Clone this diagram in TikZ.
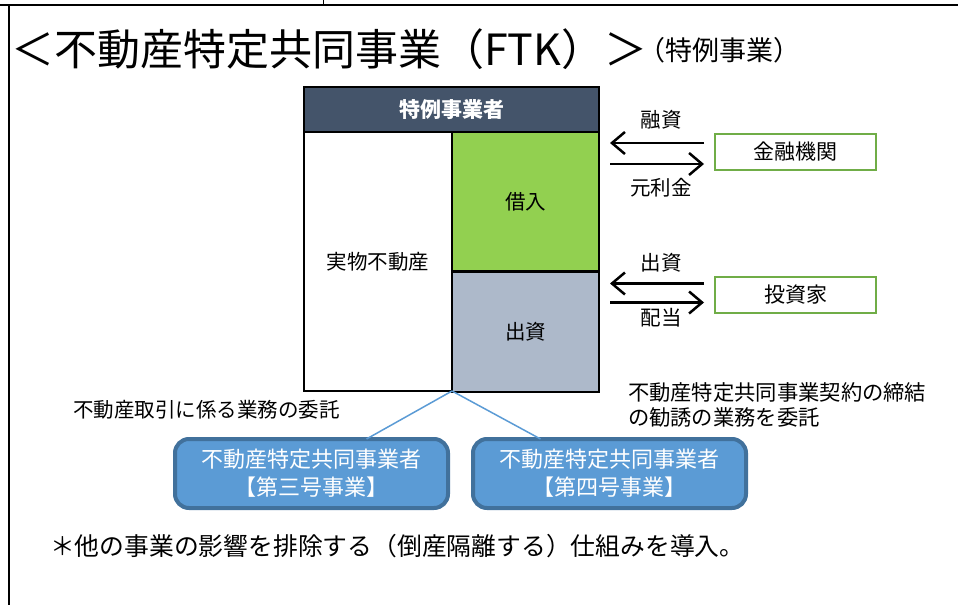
\documentclass[tikz,border=0pt]{standalone}
\usepackage{fontspec}
\setmainfont{Noto Sans CJK JP}
\usepackage{tikz}
\usetikzlibrary{arrows.meta}

\definecolor{hdrslate}{HTML}{44546A}
\definecolor{loangreen}{HTML}{92D050}
\definecolor{equitygray}{HTML}{ADB9CA}
\definecolor{partnergreen}{HTML}{70AD47}
\definecolor{agentblue}{HTML}{5B9BD5}
\definecolor{agentedge}{HTML}{41719C}

\begin{document}
\begin{tikzpicture}[x=1pt, y=-1pt]
\tikzstyle{every node} = [inner sep=0pt, outer sep=0pt]
\tikzstyle{cell} = [draw=black, line width=2pt, font=\fontsize{20.5}{24}\selectfont]
\tikzstyle{partner} = [draw=partnergreen, line width=2pt, minimum width=161pt, minimum height=36pt, font=\fontsize{21}{24}\selectfont]
\tikzstyle{agent} = [draw=agentedge, fill=agentblue, line width=4pt, rounded corners=14pt, minimum width=273pt, minimum height=69pt, text=white, align=center, font=\fontsize{22}{28}\selectfont]
\tikzstyle{lbl} = [font=\fontsize{20.5}{24}\selectfont]
\tikzstyle{flow} = [-{Straight Barb[length=13pt,width=22pt]}, line width=2.5pt, shorten <=11pt, shorten >=11pt]
\tikzstyle{link} = [draw=agentblue, line width=1.5pt]

\useasboundingbox (0,0) rectangle (958,605);

% frame
\draw[line width=1.5pt] (0,5) -- (958,5);
\draw[line width=1.5pt] (9,5) -- (9,605);
\draw (323,0) -- (323,5);

\node[anchor=west, font=\fontsize{43}{46}\selectfont] (title) at (11,49) {＜不動産特定共同事業（FTK）＞};
\node[anchor=west, font=\fontsize{27}{30}\selectfont] (subtitle) at (638,50) {（特例事業）};

% scheme box
\node[cell, fill=hdrslate, text=white, minimum width=295pt, minimum height=45pt, font=\bfseries\fontsize{21}{24}\selectfont] (hdr) at (451.5,109.5) {特例事業者};
\node[cell, fill=white, minimum width=148pt, minimum height=259pt] (asset) at (378,261.5) {実物不動産};
\node[cell, fill=loangreen, minimum width=147pt, minimum height=139pt] (loan) at (525.5,201.5) {借入};
\node[cell, fill=equitygray, minimum width=147pt, minimum height=120pt] (equity) at (525.5,331.5) {出資};

\node[partner] (bank) at (795.5,152) {金融機関};
\node[partner] (investor) at (795.5,294.5) {投資家};

\coordinate (b1) at ([yshift=9pt]bank.west);
\coordinate (b2) at ([yshift=-12pt]bank.west);
\coordinate (i1) at ([yshift=11pt]investor.west);
\coordinate (i2) at ([yshift=-8pt]investor.west);

\draw[flow] (b1) -- (b1 -| loan.east);
\draw[flow] (b2 -| loan.east) -- (b2);
\draw[flow] (i1) -- (i1 -| equity.east);
\draw[flow] (i2 -| equity.east) -- (i2);

\node[lbl] (financing) at (661,120) {融資};
\node[lbl] (repayment) at (661,188) {元利金};
\node[lbl] (capital) at (661,263) {出資};
\node[lbl] (dividend) at (661,318) {配当};

% operators
\node[agent] (op3) at (311.5,473.5) {不動産特定共同事業者\\【第三号事業】};
\node[agent] (op4) at (609.5,473.5) {不動産特定共同事業者\\【第四号事業】};

\draw[link] (asset.south east) -- ([xshift=55pt]op3.north);
\draw[link] (asset.south east) -- ([xshift=-69pt]op4.north);

\node[lbl, anchor=west] (task3) at (73,410) {不動産取引に係る業務の委託};
\node[lbl, anchor=west, align=left, font=\fontsize{21.3}{25}\selectfont] (task4) at (628,404.5) {不動産特定共同事業契約の締結\\の勧誘の業務を委託};

\node[anchor=west, font=\fontsize{24.8}{28}\selectfont] (note) at (50,546) {＊他の事業の影響を排除する（倒産隔離する）仕組みを導入。};
\end{tikzpicture}
\end{document}
